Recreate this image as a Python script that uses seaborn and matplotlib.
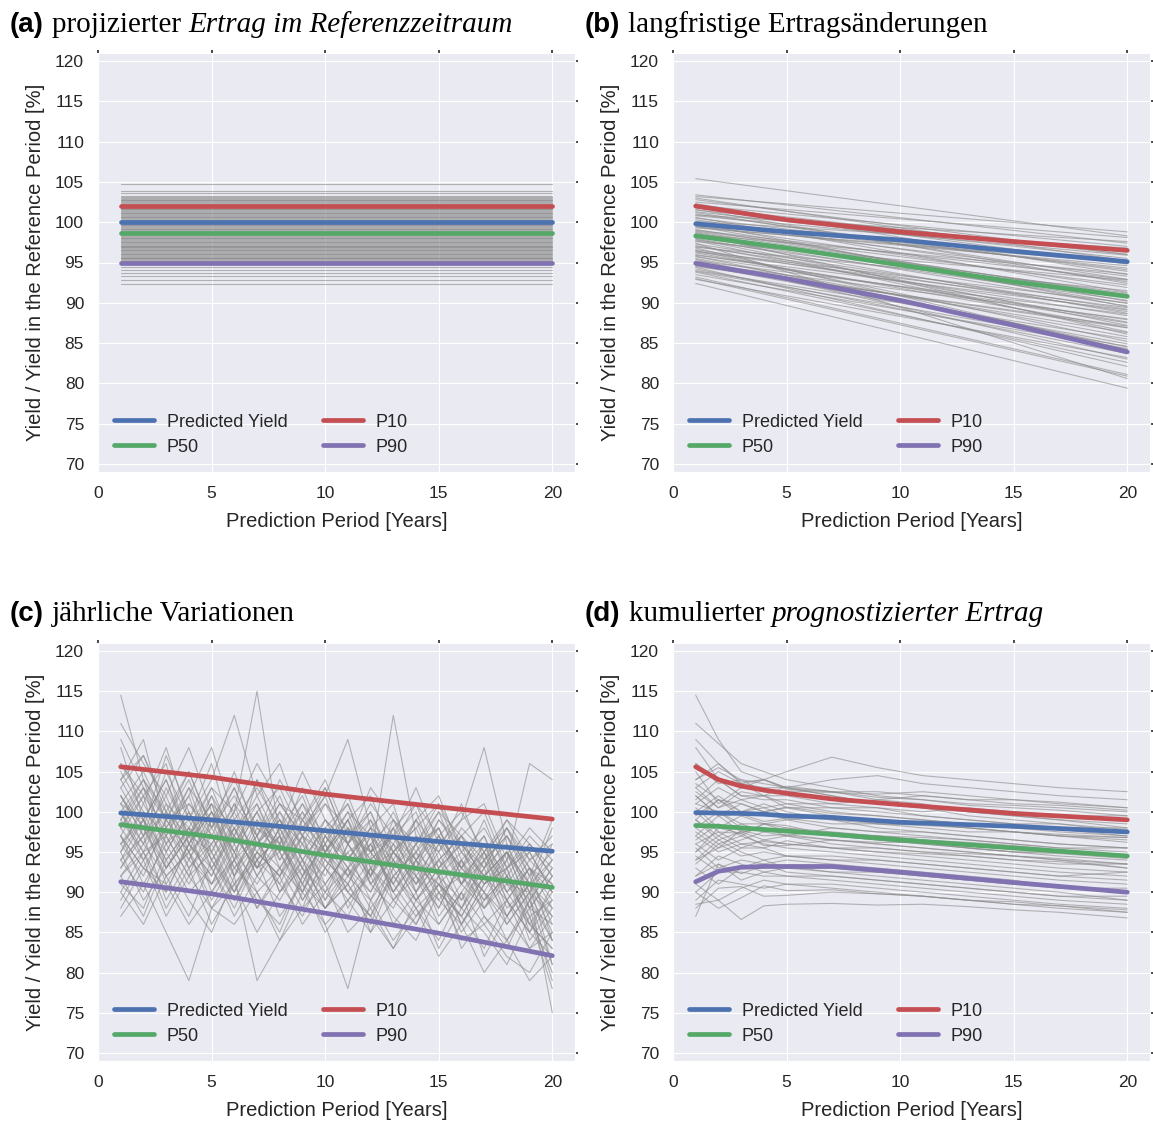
import matplotlib
matplotlib.use("Agg")
import matplotlib.pyplot as plt
import numpy as np
import pandas as pd
import seaborn as sns

# ---------------- data ----------------
years = list(range(1, 21))
series_names = ["Predicted Yield", "P50", "P10", "P90"]
series_colors = {"Predicted Yield": "#4C72B0", "P50": "#55A868",
                 "P10": "#C44E52", "P90": "#8172B2"}

# (a) projected yield in reference period: constant levels
a_levels = [104.8, 103.9, 103.6, 103.3, 103.1, 102.8, 102.6, 102.5, 102.2, 102.0,
            101.8, 101.7, 101.4, 101.2, 101.1, 100.8, 100.6, 100.5, 100.3, 100.0,
            99.8, 99.7, 99.5, 99.2, 99.1, 98.9, 98.7, 98.4, 98.2, 98.1,
            97.9, 97.6, 97.5, 97.3, 97.0, 96.9, 96.7, 96.4, 96.3, 96.1,
            95.8, 95.7, 95.5, 95.3, 95.1, 94.8, 94.5, 94.1, 93.7, 93.3,
            92.8, 92.3,
            101.9, 101.6, 101.3, 100.9, 100.7, 100.4, 100.2, 99.9, 99.6, 99.4,
            99.3, 99.0, 98.8, 98.6, 98.3, 98.0, 97.8, 97.7, 97.4, 97.2,
            96.8, 96.6, 96.5, 96.2, 96.0, 95.9, 95.6, 95.4, 95.2, 102.4,
            102.7, 102.9, 103.0, 101.5, 101.0, 100.1, 99.85, 98.5, 97.1, 96.95,
            95.55]
a_bold = {"Predicted Yield": [100.0, 100.0], "P50": [98.6, 98.6],
          "P10": [102.0, 102.0], "P90": [95.0, 95.0]}
a_bold_x = [1, 20]

# (b) long-term yield changes: start (year 1) / end (year 20)
b_start = [105.4, 103.4, 103.2, 102.8, 102.5, 102.1, 101.8, 101.5, 101.3, 101.0,
           100.8, 100.5, 100.3, 100.1, 99.8, 99.6, 99.4, 99.1, 98.9, 98.7,
           98.5, 98.3, 98.0, 97.8, 97.6, 97.3, 97.1, 96.9, 96.6, 96.4,
           96.2, 95.9, 95.7, 95.5, 95.2, 95.0, 94.7, 94.5, 94.2, 94.0,
           93.8, 93.5, 93.2, 92.9, 92.4, 96.8, 99.9, 101.6, 97.4, 98.6,
           103.0, 102.3, 101.9, 101.2, 100.6, 100.0, 99.5, 99.0, 98.2, 97.9,
           97.0, 96.5, 96.0, 95.4, 94.9, 94.4, 93.9, 93.0, 98.8, 100.9,
           99.3, 97.7, 95.8, 94.6, 96.3]
b_end = [98.3, 97.4, 98.8, 96.0, 98.1, 97.0, 94.8, 96.4, 95.5, 93.9,
         95.9, 94.1, 92.6, 96.8, 93.3, 91.9, 94.6, 90.8, 92.2, 89.9,
         93.6, 91.2, 88.7, 90.3, 92.8, 89.2, 87.6, 91.5, 88.4, 90.0,
         86.9, 89.1, 87.9, 85.8, 88.6, 86.3, 84.9, 87.1, 83.7, 85.5,
         82.6, 84.3, 81.1, 83.2, 79.4, 84.2, 89.5, 92.4, 80.6, 86.1,
         95.2, 93.5, 96.0, 92.9, 91.3, 94.3, 90.2, 92.9, 89.6, 87.2,
         88.9, 85.2, 87.5, 83.0, 88.0, 82.1, 84.6, 80.9, 91.0, 97.6,
         95.0, 86.4, 84.5, 86.9, 89.4]
b_bold_x = [1, 5, 10, 15, 20]
b_bold = {"Predicted Yield": [99.8, 98.8, 97.8, 96.4, 95.1],
          "P50": [98.3, 96.8, 94.7, 92.6, 90.8],
          "P10": [102.0, 100.3, 98.8, 97.6, 96.5],
          "P90": [94.9, 93.0, 90.3, 87.2, 83.9]}

# (c) annual variations
c_traces = [
    [114.5, 104, 99, 101, 97, 103, 96, 99, 94, 98, 101, 95, 97, 93, 99, 96, 92, 95, 91, 94],
    [111, 106, 102, 108, 100, 97, 104, 99, 96, 101, 98, 94, 112, 97, 93, 98, 95, 99, 94, 96],
    [108, 99, 104, 97, 101, 95, 100, 103, 97, 94, 99, 102, 95, 98, 92, 97, 100, 93, 96, 92],
    [104, 109, 98, 103, 95, 100, 115, 97, 101, 95, 98, 92, 99, 96, 101, 94, 97, 91, 95, 90],
    [102, 97, 105, 99, 106, 96, 101, 94, 99, 103, 96, 100, 93, 97, 95, 99, 108, 96, 89, 93],
    [100, 104, 96, 101, 98, 105, 97, 102, 95, 99, 94, 98, 101, 92, 96, 93, 97, 90, 94, 91],
    [99, 95, 101, 94, 99, 92, 98, 96, 100, 93, 97, 95, 91, 96, 98, 92, 95, 89, 93, 88],
    [97, 102, 93, 98, 96, 100, 94, 91, 97, 95, 99, 92, 96, 90, 94, 97, 91, 95, 88, 92],
    [96, 92, 99, 95, 91, 97, 93, 98, 92, 96, 90, 94, 97, 91, 95, 89, 93, 96, 90, 87],
    [95, 99, 91, 96, 100, 93, 97, 90, 95, 92, 98, 91, 94, 89, 93, 96, 88, 92, 86, 90],
    [94, 90, 97, 92, 95, 89, 94, 97, 91, 88, 93, 96, 90, 94, 87, 91, 95, 88, 91, 85],
    [93, 97, 89, 94, 91, 96, 90, 93, 88, 95, 90, 87, 92, 95, 89, 86, 91, 94, 87, 89],
    [91, 88, 95, 90, 93, 87, 92, 89, 94, 88, 91, 86, 93, 88, 91, 85, 89, 92, 84, 88],
    [89, 94, 87, 92, 88, 91, 85, 90, 93, 86, 89, 92, 87, 84, 90, 87, 83, 89, 85, 82],
    [87, 91, 85, 79, 88, 86, 90, 84, 88, 91, 85, 88, 83, 87, 90, 84, 86, 82, 80, 85],
    [106, 101, 108, 99, 104, 112, 102, 106, 98, 101, 96, 103, 99, 95, 100, 97, 94, 99, 96, 93],
    [103, 107, 100, 105, 98, 103, 96, 101, 99, 104, 97, 100, 94, 99, 102, 95, 98, 93, 97, 94],
    [101, 96, 103, 97, 102, 94, 99, 96, 103, 96, 100, 93, 98, 101, 94, 97, 93, 98, 92, 95],
    [98, 103, 95, 100, 93, 98, 101, 95, 90, 97, 94, 99, 92, 95, 98, 91, 96, 90, 93, 89],
    [92, 96, 100, 93, 97, 91, 95, 99, 93, 90, 96, 91, 95, 92, 88, 94, 90, 87, 92, 86],
    [97, 93, 90, 96, 92, 99, 93, 95, 89, 94, 91, 97, 89, 93, 91, 88, 94, 90, 86, 83],
    [100, 94, 98, 93, 96, 90, 95, 92, 97, 91, 95, 89, 93, 96, 90, 92, 88, 91, 87, 78],
    [104, 99, 95, 100, 94, 98, 92, 96, 91, 97, 93, 90, 95, 92, 89, 93, 90, 86, 90, 84],
    [99, 103, 97, 92, 99, 95, 100, 93, 98, 94, 91, 96, 90, 94, 91, 87, 92, 95, 88, 92],
    [96, 100, 94, 98, 90, 95, 88, 93, 97, 89, 93, 88, 92, 89, 93, 86, 90, 84, 89, 81],
    [102, 98, 93, 97, 101, 92, 96, 100, 94, 98, 92, 96, 99, 93, 97, 91, 94, 97, 91, 98],
    [98, 102, 106, 96, 100, 94, 104, 97, 93, 99, 96, 92, 97, 94, 98, 92, 89, 94, 106, 104],
    [95, 89, 93, 97, 91, 94, 89, 86, 92, 96, 88, 93, 90, 86, 91, 94, 87, 83, 89, 84],
    [93, 98, 92, 87, 94, 90, 96, 91, 87, 93, 89, 85, 92, 88, 84, 90, 86, 89, 83, 87],
    [90, 95, 88, 93, 86, 91, 94, 87, 91, 85, 89, 93, 86, 90, 83, 88, 85, 81, 87, 80],
    [101, 105, 99, 95, 102, 97, 93, 98, 102, 95, 99, 94, 97, 100, 93, 96, 92, 95, 90, 96],
    [97, 91, 96, 99, 94, 89, 95, 92, 96, 90, 87, 93, 89, 92, 86, 90, 94, 87, 91, 88],
    [105, 100, 97, 103, 99, 104, 98, 95, 100, 96, 102, 95, 98, 94, 99, 95, 92, 97, 93, 90],
    [94, 99, 104, 96, 92, 98, 92, 97, 90, 95, 99, 91, 88, 94, 90, 87, 92, 89, 85, 91],
    [100, 96, 92, 95, 89, 94, 97, 90, 94, 88, 92, 95, 91, 87, 91, 88, 93, 86, 90, 75],
    [92, 87, 94, 89, 85, 92, 79, 84, 90, 86, 78, 89, 84, 88, 82, 86, 80, 84, 79, 82],
    [103, 98, 107, 100, 95, 101, 97, 104, 99, 95, 100, 97, 93, 99, 95, 101, 94, 97, 92, 99],
    [98, 94, 99, 104, 97, 92, 99, 94, 98, 102, 94, 98, 91, 96, 100, 93, 90, 95, 91, 87],
    [95, 101, 96, 91, 96, 101, 93, 98, 93, 89, 96, 92, 98, 90, 94, 91, 96, 89, 93, 84],
    [101, 99, 94, 98, 93, 97, 102, 96, 91, 97, 101, 93, 95, 99, 92, 95, 91, 93, 95, 90],
    [92, 95, 90, 96, 93, 88, 94, 97, 89, 93, 90, 87, 94, 89, 92, 86, 91, 93, 86, 83],
    [106, 102, 98, 102, 108, 99, 103, 98, 105, 99, 96, 101, 97, 103, 96, 99, 101, 94, 98, 95],
    [88, 93, 91, 86, 90, 94, 88, 92, 86, 90, 93, 85, 89, 86, 92, 83, 87, 84, 88, 79],
    [99, 104, 100, 97, 103, 96, 100, 95, 101, 97, 93, 98, 95, 91, 97, 93, 99, 92, 89, 93],
    [97, 93, 98, 94, 100, 95, 91, 96, 92, 98, 94, 90, 96, 93, 88, 94, 89, 92, 88, 86],
    [104, 107, 101, 98, 103, 100, 106, 101, 97, 102, 109, 98, 96, 101, 97, 100, 95, 98, 94, 97],
    [94, 97, 102, 95, 98, 93, 96, 99, 94, 91, 95, 97, 90, 95, 92, 89, 95, 91, 90, 94],
    [100, 95, 97, 102, 94, 99, 95, 92, 99, 95, 92, 97, 94, 90, 96, 91, 88, 93, 85, 89],
    [96, 99, 93, 97, 95, 90, 96, 93, 90, 96, 92, 89, 95, 91, 94, 88, 92, 87, 91, 81],
    [102, 97, 100, 96, 101, 98, 94, 100, 96, 93, 98, 95, 100, 94, 97, 93, 96, 92, 96, 92],
    [90, 86, 92, 95, 88, 93, 90, 85, 92, 88, 91, 87, 83, 89, 86, 90, 82, 87, 83, 85],
    [109, 103, 99, 105, 98, 102, 97, 101, 97, 103, 96, 99, 95, 98, 101, 96, 93, 98, 93, 91],
]
c_bold_x = [1, 5, 10, 15, 20]
c_bold = {"Predicted Yield": [99.85, 99.0, 97.65, 96.3, 95.1],
          "P50": [98.4, 96.9, 94.6, 92.55, 90.6],
          "P10": [105.6, 104.3, 102.2, 100.6, 99.1],
          "P90": [91.3, 89.8, 87.4, 84.9, 82.1]}

# (d) cumulative predicted yield
d_years = [1, 2, 3, 4, 5, 7, 9, 11, 13, 15, 17, 20]
d_traces = [
    [114.5, 109, 105, 104, 103, 102, 101, 100.5, 100, 99.5, 99, 98.5],
    [111, 108.5, 106, 105, 104, 103, 102, 101.5, 101, 100.8, 100.5, 100],
    [108, 104, 103.5, 102, 102, 101, 101.5, 101, 100, 99.5, 99, 98],
    [106, 103.5, 104, 103.5, 103, 104, 104.5, 103.5, 103, 102.5, 102, 101.5],
    [104, 106, 103.5, 103, 103, 102.5, 101.5, 102, 101.5, 101.5, 101, 100.5],
    [103, 105, 103.5, 104, 103, 102, 101, 100.5, 99.5, 99, 98.5, 97.5],
    [102, 99.5, 101, 100, 100.5, 99.5, 99, 98.5, 98, 97.5, 97, 96.5],
    [101, 103, 101.5, 100.5, 101, 100, 99.5, 99, 98.5, 98, 97.5, 97],
    [100, 102, 100, 101, 100, 99, 98, 97.5, 97, 96.5, 96, 95.5],
    [99, 97, 98.5, 97.5, 98, 97.5, 97, 96.5, 96, 95.5, 95, 94.5],
    [98, 100, 98.5, 98.5, 98, 97, 96.5, 96, 95.5, 95, 94.5, 94],
    [97, 99.5, 97.5, 96.5, 97, 96.5, 96, 95.5, 95, 94.5, 94, 93],
    [96, 94, 95.5, 96.5, 96, 95.5, 95, 94.5, 94, 93.5, 93, 92.5],
    [95, 97, 95.5, 95.5, 94.5, 94.5, 94, 93.5, 93, 92.5, 92, 91.5],
    [94, 96.5, 95, 94, 94.5, 94, 93.5, 93, 92.5, 92, 91.5, 91],
    [93, 91, 93, 94, 93, 93, 92.5, 92, 91.5, 91, 90.5, 90],
    [92, 94.5, 93.5, 92.5, 93, 92.5, 92, 91.5, 91, 90.5, 90, 89],
    [91, 89, 90.5, 91.5, 91, 91, 90.5, 90, 89.5, 89, 88.5, 88],
    [89, 91.5, 91, 90.5, 91, 90.5, 90, 89.5, 89, 88.5, 88, 87.5],
    [87, 93.5, 91.5, 92.5, 92, 91.5, 91, 90.5, 90, 89.5, 89, 88.5],
    [88.5, 89, 86.6, 88.3, 88.5, 88.6, 88.4, 88.5, 88.2, 87.8, 87.5, 86.8],
    [105, 101, 103, 104, 105, 106.8, 105.5, 104.5, 104, 103.5, 103, 102.5],
    [100.5, 98, 99.5, 100, 99, 99.5, 98.5, 98, 97.5, 97.5, 97, 96.2],
    [99.5, 101.5, 99.5, 98.5, 99, 98, 97.5, 97, 96.5, 96, 95.5, 95.5],
    [97.5, 95.5, 96.5, 97.5, 97, 96, 95.5, 95, 94.5, 94, 93.5, 93.5],
    [96.5, 98.5, 97, 96, 95.5, 95, 94.5, 94, 93.5, 93, 92.5, 92],
    [95.5, 93, 94, 93.5, 94, 93.5, 93, 92.5, 92, 91.5, 90.5, 90.5],
    [94.5, 92.5, 93, 93.5, 92.5, 92, 91.5, 91, 90.5, 90, 89.5, 89.5],
    [93.5, 96, 94.5, 95, 94.5, 94, 94, 93.5, 93, 92.5, 92, 92.5],
    [101.5, 104, 102, 101.5, 101.5, 100.5, 100, 99.5, 99, 98.5, 98, 98.0],
    [99, 96.5, 97.5, 98, 97.5, 97, 96.5, 96, 95.5, 95, 95, 94.5],
    [90, 92.5, 92.5, 92, 92, 92, 91.5, 91, 90.5, 90, 89.5, 89],
    [102.5, 100.5, 101.5, 102, 101, 101, 100.5, 100, 100.5, 100, 99.5, 99.5],
    [103.5, 101.5, 100, 100.5, 99.5, 99, 98.5, 98.5, 98, 97.5, 97, 96.8],
    [103, 100.5, 102.5, 102, 100.5, 100.5, 100.5, 99.5, 99, 98.5, 98.5, 97.8],
    [98, 96, 97, 98.5, 98.3, 97, 97, 96.8, 96.5, 96, 95.5, 95],
    [95, 98, 97.3, 95.8, 95.8, 96.5, 96, 95.5, 95, 94.5, 94.2, 93.5],
    [101, 100, 98, 98, 97, 98, 97.5, 97.5, 97, 96.5, 96, 95.5],
    [92, 93.5, 92.3, 93.3, 93.2, 92.5, 92.5, 92, 91.5, 91, 90.8, 90],
    [106, 104, 102, 102, 103.2, 102.5, 102.5, 102, 101.5, 101, 100.8, 100.2],
    [88, 90.5, 90.7, 89.5, 89.6, 90, 89.8, 89.5, 89, 88.8, 88.3, 87.5],
    [99, 101.5, 101, 100, 100.6, 99.8, 99.5, 99, 98.5, 98, 97.8, 97],
    [97, 95, 96, 95.5, 96.4, 95.5, 95.5, 95, 94.8, 94.5, 94, 93.5],
    [104, 105.5, 104, 102.5, 102.6, 102.4, 102.2, 102.5, 102, 101.5, 101.2, 100.5],
    [94, 95.5, 97.7, 97, 97.2, 96.5, 96.2, 96.2, 95.5, 95, 94.8, 94.2],
    [100, 97.5, 97.3, 98.5, 97.6, 97.4, 97, 96.5, 96.2, 95.8, 95.3, 94.5],
    [96, 97.5, 96, 96.3, 96, 95.5, 95, 94.8, 94.5, 94, 93.8, 93],
    [102, 99.5, 99.7, 98.8, 99.2, 98.5, 98.5, 98.3, 98, 97.5, 97.2, 96.8],
    [90, 88, 89.3, 90.8, 90.2, 90.3, 89.8, 89.5, 89, 88.5, 88.3, 87.8],
    [109, 106, 103.7, 104, 102.8, 102.5, 101.8, 101.5, 100.8, 100.5, 100.2, 99.5],
]
d_bold_x = [1, 2, 3, 4, 5, 7, 10, 15, 20]
d_bold = {"Predicted Yield": [99.9, 99.85, 99.8, 99.7, 99.5, 99.3, 98.7, 98.2, 97.5],
          "P50": [98.3, 98.2, 98.0, 97.8, 97.6, 97.2, 96.5, 95.5, 94.5],
          "P10": [105.6, 104.0, 103.2, 102.7, 102.3, 101.6, 100.9, 99.8, 99.0],
          "P90": [91.3, 92.6, 93.1, 93.2, 93.2, 93.2, 92.5, 91.2, 90.0]}

x_ticks = [0, 5, 10, 15, 20]
y_ticks = [70, 75, 80, 85, 90, 95, 100, 105, 110, 115, 120]

# ---------------- style ----------------
sns.set_style("darkgrid", {"axes.facecolor": "#EAEAF2", "grid.color": "white"})
plt.rcParams["font.family"] = ["Liberation Sans", "DejaVu Sans"]
plt.rcParams["text.color"] = ".15"
plt.rcParams["axes.labelcolor"] = ".15"

W, H = 1153, 1124
fig = plt.figure(figsize=(W / 100, H / 100), dpi=100)


def box(l, t, r, b):
    return [l / W, 1 - b / H, (r - l) / W, (b - t) / H]


positions = [box(98, 53, 575, 472), box(673, 53, 1150, 472),
             box(98, 643, 575, 1061), box(673, 643, 1150, 1061)]


def long_df(xs, ys_list):
    rows = []
    for i, ys in enumerate(ys_list):
        for x, y in zip(xs, ys):
            rows.append((i, x, y))
    return pd.DataFrame(rows, columns=["trace", "x", "y"])


def bold_df(xs, d):
    rows = []
    for name in series_names:
        for x, y in zip(xs, d[name]):
            rows.append((name, x, y))
    return pd.DataFrame(rows, columns=["series", "x", "y"])


grey_sets = [
    long_df([1, 20], [[v, v] for v in a_levels]),
    long_df([1, 20], [[s, e] for s, e in zip(b_start, b_end)]),
    long_df(years, c_traces),
    long_df(d_years, d_traces),
]
bold_sets = [bold_df(a_bold_x, a_bold), bold_df(b_bold_x, b_bold),
             bold_df(c_bold_x, c_bold), bold_df(d_bold_x, d_bold)]

axes = []
for k in range(4):
    ax = fig.add_axes(positions[k])
    axes.append(ax)
    sns.lineplot(data=grey_sets[k], x="x", y="y", units="trace", estimator=None,
                 color="#8a8a8a", alpha=0.6, lw=0.8, ax=ax, legend=False)
    sns.lineplot(data=bold_sets[k], x="x", y="y", hue="series",
                 hue_order=series_names, palette=series_colors, estimator=None,
                 lw=3.4, ax=ax, solid_capstyle="round")
    sns.move_legend(ax, "lower left", ncol=2, frameon=False, title=None,
                    fontsize=13, handlelength=2.2, handletextpad=0.7,
                    columnspacing=2.0, labelspacing=0.45)
    for line in ax.get_legend().get_lines():
        line.set_linewidth(3.4)
    ax.set_xlim(0, 21)
    ax.set_ylim(69, 121)
    ax.set_xticks(x_ticks)
    ax.set_yticks(y_ticks)
    ax.tick_params(axis="both", labelsize=12.5, length=2, width=1.2,
                   colors=".15", top=True, right=True, direction="out", pad=8)
    ax.set_xlabel("Prediction Period [Years]", fontsize=14.5, labelpad=8)
    ax.set_ylabel("Yield / Yield in the Reference Period [%]", fontsize=14.5,
                  labelpad=7)

# ---------------- panel titles ----------------
titles = [
    (10, 32, "(a)", [("projizierter ", "normal"), ("Ertrag im Referenzzeitraum", "italic")]),
    (585, 32, "(b)", [("langfristige Ertragsänderungen", "normal")]),
    (10, 621, "(c)", [("jährliche Variationen", "normal")]),
    (585, 621, "(d)", [("kumulierter ", "normal"), ("prognostizierter Ertrag", "italic")]),
]
renderer = fig.canvas.get_renderer()
for px, py, tag, parts in titles:
    t = fig.text(px / W, 1 - py / H, tag, fontsize=20, fontweight="bold",
                 family=["Liberation Sans", "DejaVu Sans"], va="baseline", ha="left",
                 color="black")
    x_pix = t.get_window_extent(renderer).x1 + 8
    for txt, style in parts:
        t2 = fig.text(x_pix / W, 1 - py / H, txt, fontsize=21, style=style,
                      family=["Liberation Serif", "DejaVu Serif"], va="baseline",
                      ha="left", color="black")
        x_pix = t2.get_window_extent(renderer).x1

fig.savefig("out.png", dpi=100)
